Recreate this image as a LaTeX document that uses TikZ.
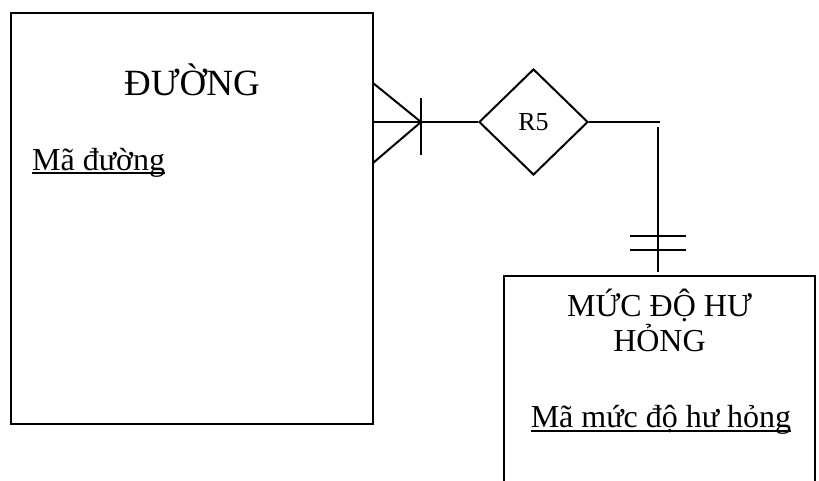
\documentclass[tikz,border=0pt]{standalone}
\usepackage{fontspec}
\setmainfont{Liberation Serif}
\usetikzlibrary{shapes.geometric}
\begin{document}
\begin{tikzpicture}[x=1pt,y=-1pt,
  ln/.style={line width=2pt,black},
  entbox/.style={draw,ln,rectangle,inner sep=0pt},
  rel/.style={draw,ln,diamond,inner sep=0pt,minimum width=109pt,minimum height=106pt,font=\fontsize{26}{30}\selectfont},
  txt/.style={inner sep=0pt,font=\fontsize{32}{35}\selectfont},
  ttl/.style={inner sep=0pt,font=\fontsize{37}{42}\selectfont},
  uline/.style={line width=2pt,black}]
\useasboundingbox (0,0) rectangle (819,480);
% left entity
\node[entbox,minimum width=362pt,minimum height=411pt] (duong) at (192,218.5) {};
\node[ttl,anchor=base] (duongt) at (192,95) {ĐƯỜNG};
\node[txt,anchor=base west] (duongk) at (32,170) {Mã đường};
\draw[uline] ([yshift=-3pt]duongk.base west) -- ([yshift=-3pt]duongk.base east);
% relationship
\node[rel] (r5) at (533.5,122) {R5};
% right entity (bottom edge outside the picture)
\coordinate (mbl) at (504,482);
\coordinate (mtl) at (504,276);
\coordinate (mtr) at (815,276);
\coordinate (mbr) at (815,482);
\draw[ln] (mbl) -- (mtl) -- (mtr) -- (mbr);
\node[txt,align=center,anchor=base] (muct) at (659.5,351) {MỨC ĐỘ HƯ\\HỎNG};
\node[txt,anchor=base] (muck) at (661,427) {Mã mức độ hư hỏng};
\draw[uline] ([yshift=-4pt]muck.base west) -- ([yshift=-4pt]muck.base east);
% crow's foot on ĐƯỜNG side
\coordinate (cf) at (421,122);
\coordinate (cf1) at (373,83);
\coordinate (cf2) at (373,122);
\coordinate (cf3) at (373,163);
\coordinate (cbt) at (421,98);
\coordinate (cbb) at (421,155);
\draw[ln] (cf1) -- (cf) -- (cf3);
\draw[ln] (cf2) -- (cf);
\draw[ln] (cbt) -- (cbb);
\draw[ln] (cf) -- (r5.west);
% one-and-only-one on MỨC ĐỘ side
\coordinate (re) at (660,122);
\coordinate (vt) at (658,127);
\coordinate (vb) at (658,272);
\draw[ln] (r5.east) -- (re);
\draw[ln] (vt) -- (vb);
\coordinate (b1l) at (630,236); \coordinate (b1r) at (686,236);
\coordinate (b2l) at (630,250); \coordinate (b2r) at (686,250);
\draw[ln] (b1l) -- (b1r);
\draw[ln] (b2l) -- (b2r);
\end{tikzpicture}
\end{document}
